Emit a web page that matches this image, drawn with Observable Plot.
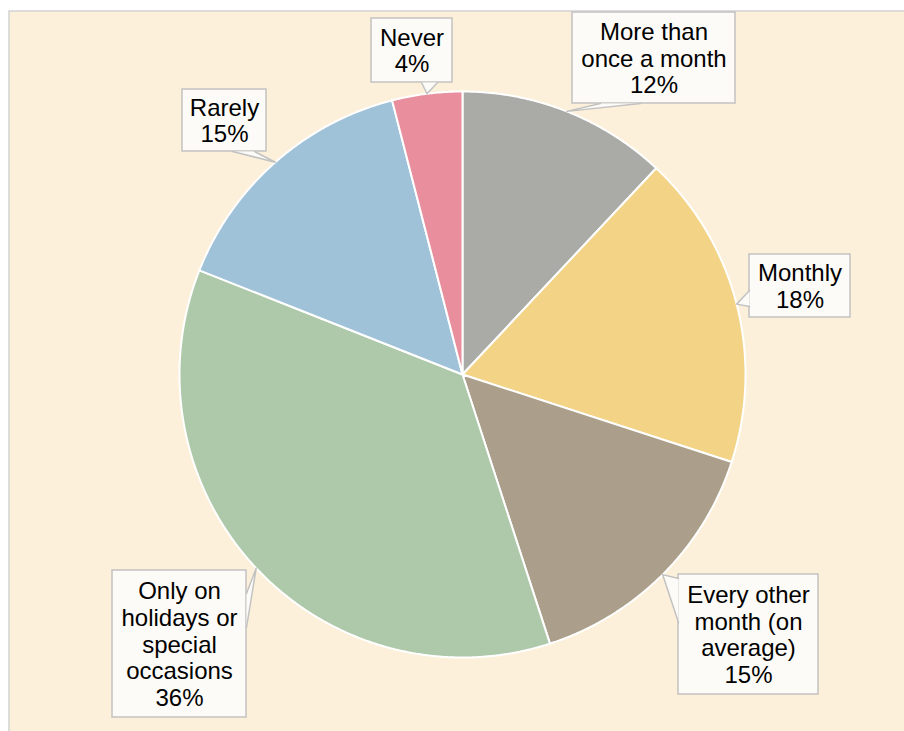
<!DOCTYPE html>
<html><head><meta charset="utf-8">
<script src="https://cdn.jsdelivr.net/npm/d3@7"></script>
<script src="https://cdn.jsdelivr.net/npm/@observablehq/plot@0.6"></script>
<style>body{margin:0;background:#fff;overflow:hidden}</style>
</head><body><div id="chart"></div>
<script>
// ---- data ----
const categories = ["More than once a month","Monthly","Every other month (on average)","Only on holidays or special occasions","Rarely","Never"];
const labelText = ["More than\nonce a month","Monthly","Every other\nmonth (on\naverage)","Only on\nholidays or\nspecial\noccasions","Rarely","Never"];
const shares = [12, 18, 15, 36, 15, 4];
const colors = ["#aaaaa6","#f3d386","#ab9f8b","#aec9aa","#a0c2d9","#e88e9c"];

// ---- layout (pixels) ----
const W = 904, H = 731;
const cx = 462, cy = 374, R = 283;
const callouts = [
  {x1:572, y1:12,  x2:735, y2:103, base:[[600,103],[640,103]]},
  {x1:749, y1:254, x2:850, y2:317, base:[[749,290],[749,306]]},
  {x1:678, y1:574, x2:818, y2:694, base:[[678,578],[678,622]]},
  {x1:112, y1:570, x2:246, y2:717, base:[[246,593],[246,627]]},
  {x1:182, y1:89,  x2:266, y2:151, base:[[232,151],[254,151]]},
  {x1:371, y1:18,  x2:452, y2:82,  base:[[421,82],[437,82]]}
];

const arcs = d3.pie().sort(null).value(d => d)(shares);
const pt = (a, r) => [cx + r * Math.sin(a), cy - r * Math.cos(a)];

const slicePts = [];
arcs.forEach((a, i) => {
  const cat = categories[i];
  slicePts.push({cat, x: cx, y: cy});
  const n = Math.max(4, Math.ceil((a.endAngle - a.startAngle) / 0.005));
  for (let k = 0; k <= n; k++) {
    const t = a.startAngle + (a.endAngle - a.startAngle) * k / n;
    const [x, y] = pt(t, R);
    slicePts.push({cat, x, y});
  }
});

const boxes = callouts.map((c, i) => ({...c, cat: categories[i], label: labelText[i] + "\n" + shares[i] + "%"}));
const wedgePts = [];
boxes.forEach((b, i) => {
  const a = arcs[i];
  const [tx, ty] = pt((a.startAngle + a.endAngle) / 2, R);
  [b.base[0], [tx, ty], b.base[1]].forEach(([x, y]) => wedgePts.push({cat: b.cat, x, y}));
});

const chart = Plot.plot({
  width: W, height: H,
  margin: 0,
  x: {domain: [0, W], range: [0, W], axis: null},
  y: {domain: [0, H], range: [0, H], axis: null},
  color: {domain: categories, range: colors},
  style: {background: "#ffffff"},
  marks: [
    Plot.rect([0], {x1: 9, x2: W + 20, y1: 11, y2: H + 20, fill: "#fcf0da", stroke: "#d2d2d2", strokeWidth: 1.5}),
    Plot.line(slicePts, {x: "x", y: "y", z: "cat", fill: "cat", stroke: "#ffffff", strokeWidth: 2, curve: "linear-closed", strokeLinejoin: "round"}),
    Plot.rect(boxes, {x1: "x1", x2: "x2", y1: "y1", y2: "y2", fill: "#fdfbf7", stroke: "#c2c2c2", strokeWidth: 1.5}),
    Plot.line(wedgePts, {x: "x", y: "y", z: "cat", fill: "#fdfbf7", stroke: "none", curve: "linear-closed"}),
    Plot.line(wedgePts, {x: "x", y: "y", z: "cat", stroke: "#c2c2c2", strokeWidth: 1.5}),
    Plot.text(boxes, {
      x: d => (d.x1 + d.x2) / 2, y: d => (d.y1 + d.y2) / 2,
      text: "label", lineAnchor: "middle", textAnchor: "middle",
      fontSize: 24, lineHeight: 1.11, fill: "#000",
      fontFamily: "Liberation Sans, Arial, sans-serif"
    })
  ]
});
document.getElementById("chart").appendChild(chart);
</script>
</body></html>
